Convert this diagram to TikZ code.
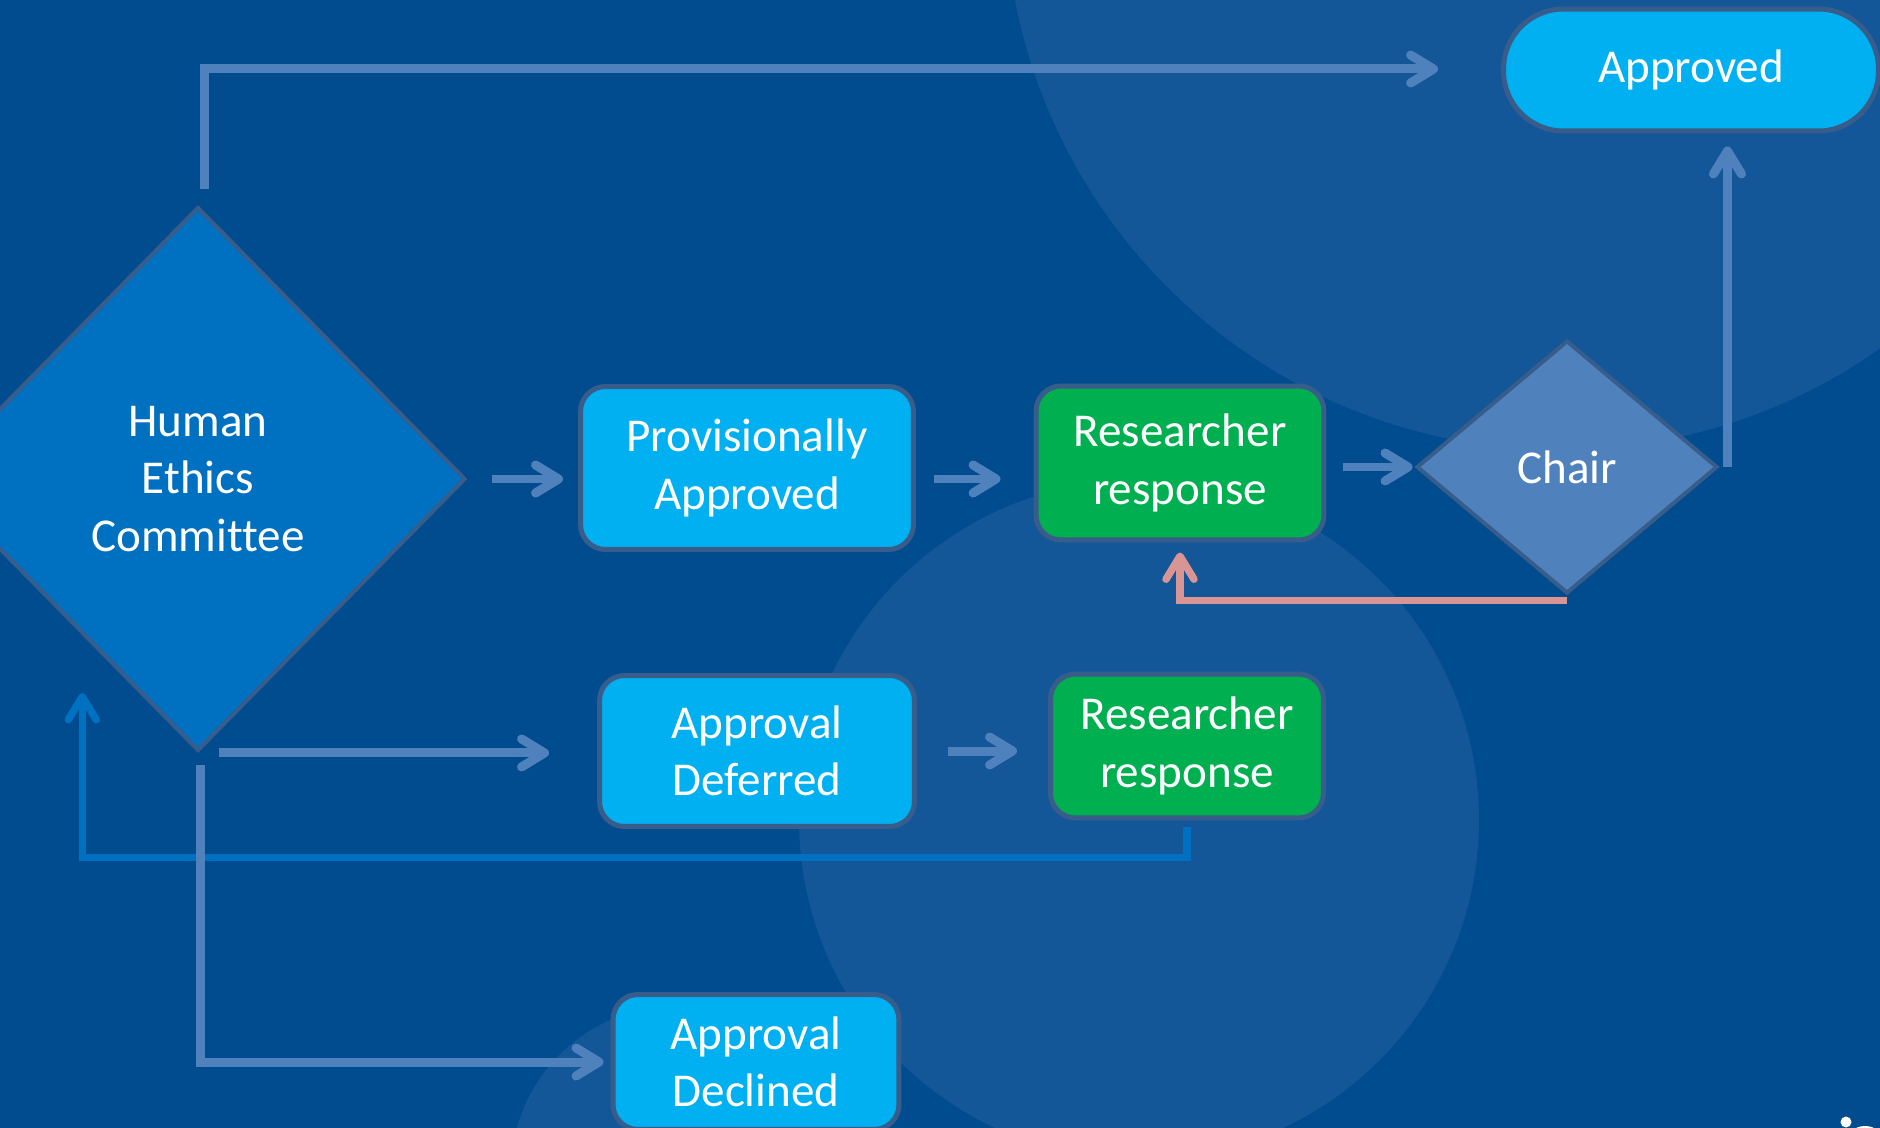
\documentclass[tikz,border=0pt]{standalone}
\usepackage{fontspec}
\setmainfont{Carlito}[Ligatures=NoCommon]
\usetikzlibrary{shapes.geometric,arrows.meta,calc}

\definecolor{bgblue}{RGB}{0,76,142}
\definecolor{bgring}{RGB}{19,87,153}
\definecolor{paleblue}{RGB}{79,129,189}
\definecolor{deepblue}{RGB}{0,112,192}
\definecolor{skyblue}{RGB}{0,176,240}
\definecolor{leafgreen}{RGB}{0,176,80}
\definecolor{edgeblue}{RGB}{56,93,138}
\definecolor{rose}{RGB}{217,149,148}

\begin{document}
\begin{tikzpicture}[x=0.02cm,y=-0.02cm,
		box/.style={draw=edgeblue,line width=0.1cm,rounded corners=0.5cm,fill=skyblue,text=white,align=center,inner sep=0pt,font=\fontsize{26.8}{32.7}\selectfont},
		dec/.style={diamond,draw=edgeblue,line width=0.08cm,text=white,align=center,inner sep=0pt,font=\fontsize{26.8}{32.7}\selectfont},
		flow/.style={line width=0.18cm,paleblue,-{Straight Barb[length=0.46cm,width=0.56cm,round]}},
		back/.style={flow,deepblue,line width=0.15cm},
		redo/.style={flow,rose,line width=0.15cm}]
		\useasboundingbox (0,0) rectangle (1880,1128);
		\clip (0,0) rectangle (1880,1128);
		\fill[bgblue] (0,0) rectangle (1880,1128);
		\fill[bgring] (1560,-105) circle[radius=11.1cm];
		\fill[bgring] (1139,820) circle[radius=6.8cm];
		\fill[bgring] (677,1172) circle[radius=3.32cm];
		\fill[white] (1846,1122) circle[radius=0.11cm];
		\fill[white] (1865,1131) ellipse[x radius=0.22cm,y radius=0.1cm];
		\node[dec,fill=deepblue,minimum width=10.7cm,minimum height=10.88cm] (hec) at (198,479) {Human\\Ethics\\Committee};
		\node[box,minimum width=6.66cm,minimum height=3.26cm] (pa) at (747,468) {Provisionally\\Approved};
		\node[box,fill=leafgreen,minimum width=5.76cm,minimum height=3.08cm] (rra) at (1180,463) {Researcher\\response};
		\node[dec,fill=paleblue,minimum width=6.02cm,minimum height=5.06cm] (chair) at (1567,467) {Chair};
		\node[box,rounded corners=1.2cm,minimum width=7.5cm,minimum height=2.44cm] (appr) at (1691,70) {Approved};
		\node[box,minimum width=6.3cm,minimum height=3.02cm] (def) at (757,751) {Approval\\Deferred};
		\node[box,fill=leafgreen,minimum width=5.46cm,minimum height=2.88cm] (rrb) at (1187,746) {Researcher\\response};
		\node[box,minimum width=5.72cm,minimum height=2.7cm] (decl) at (756,1062) {Approval\\Declined};
		\draw[flow,shorten <=0.5cm,shorten >=0.3cm] (hec.east) -- (hec.east -| pa.west);
		\draw[flow,shorten <=0.36cm,shorten >=0.66cm] (pa.east |- hec.east) -- (rra.west |- hec.east);
		\draw[flow,shorten <=0.34cm,shorten >=0.04cm] (rra.east |- chair.west) -- (chair.west);
		\draw[flow,shorten >=1.26cm] ($(hec.north)+(6,-16)$) |- ([yshift=0.02cm]appr.west);
		\draw[flow,shorten >=0.26cm] ($(chair.east)+(8,0)$) -- ($(chair.east |- appr.south)+(8,0)$);
		\draw[redo] ([yshift=-0.1cm]chair.south) -| ([yshift=-0.2cm]rra.south);
		\draw[flow,shorten >=0.96cm] ([xshift=0.42cm]hec.south) -- (hec.south -| def.west);
		\draw[flow,shorten <=0.62cm,shorten >=0.62cm] (def.east) -- (rrb.west |- def.east);
		\draw[back] ([yshift=-0.14cm]rrb.south) -- ++(0,30) -| ([shift={(19,77)}]hec.south west);
		\draw[flow,shorten >=0.14cm] ($(hec.south)+(2,12)$) |- (decl.west);
		\end{tikzpicture}
\end{document}
